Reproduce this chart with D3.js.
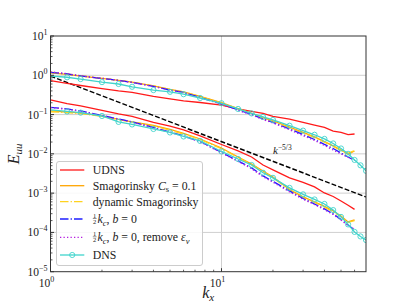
<!DOCTYPE html>
<html><head><meta charset="utf-8">
<script src="https://cdn.jsdelivr.net/npm/d3@7"></script>
<style>body{margin:0;background:#fff}svg{display:block}text{font-family:"Liberation Serif","DejaVu Serif",serif;fill:#222}</style>
</head><body><svg id="c" width="407" height="305"></svg>
<script>
// ---- data ----
const kLES = [1,1.25,1.5,2,2.5,3,4,5,6,7.5,10,12.5,15,17.5,20,25,30,35,40,45,50,55,60];
const kDNS = [1,1.25,1.5,2,2.5,3,4,5,6,7.5,10,12.5,15,17.5,20,25,30,35,40,45,50,55,60,65,70];

const udnsUpper = [0.73,0.62,0.55,0.46,0.40,0.365,0.29,0.25,0.222,0.203,0.175,0.139,0.12,0.107,0.0895,0.077,0.063,0.054,0.047,0.038,0.035,0.031,0.032];
const udnsLower = [0.235,0.19,0.166,0.127,0.1035,0.0895,0.0637,0.0507,0.0406,0.0285,0.0173,0.0119,0.0083,0.0052,0.0039,0.00244,0.00187,0.00144,0.00101,0.00082,0.00063,0.00049,0.000385];
const smagUpper = [1.15,1.05,0.95,0.83,0.74,0.67,0.54,0.44,0.38,0.29,0.20,0.142,0.108,0.084,0.069,0.048,0.035,0.027,0.0205,0.016,0.0125,0.0098,0.0118];
const smagLower = [0.124,0.116,0.11,0.092,0.075,0.065,0.053,0.0418,0.033,0.0239,0.0141,0.0083,0.0055,0.00367,0.00258,0.00124,0.0008,0.0006,0.00046,0.00035,0.00026,0.000185,0.00021];
const dynUpper = [1.2,1.08,0.97,0.84,0.745,0.67,0.535,0.435,0.375,0.285,0.197,0.14,0.106,0.082,0.067,0.046,0.034,0.026,0.0198,0.0155,0.0122,0.0105,0.012];
const dynLower = [0.118,0.112,0.106,0.09,0.074,0.064,0.051,0.04,0.032,0.0232,0.0135,0.0081,0.0053,0.0035,0.00248,0.0012,0.00078,0.00058,0.00044,0.00033,0.00025,0.00018,0.0002];
const halfUpper = [1.19,1.08,0.96,0.83,0.74,0.66,0.52,0.42,0.365,0.272,0.186,0.131,0.1006,0.077,0.063,0.043,0.031,0.0232,0.0174,0.0137,0.0105,0.0083,0.0068];
const halfLower = [0.153,0.139,0.124,0.095,0.077,0.065,0.047,0.036,0.0285,0.0207,0.0109,0.0066,0.0044,0.00274,0.00199,0.00114,0.00073,0.00053,0.000396,0.000296,0.000214,0.000155,0.000116];
const remUpper = [1.22,1.1,0.97,0.84,0.74,0.66,0.52,0.42,0.36,0.27,0.184,0.128,0.098,0.075,0.061,0.041,0.029,0.0219,0.0164,0.0125,0.0099,0.0081,0.0075];
const remLower = [0.15,0.137,0.122,0.094,0.076,0.064,0.046,0.0352,0.028,0.0202,0.0106,0.0064,0.0042,0.00262,0.0019,0.00108,0.0007,0.00051,0.00038,0.000285,0.000205,0.00015,0.00012];
const dnsUpper = [0.96,0.89,0.80,0.67,0.60,0.51,0.42,0.38,0.33,0.264,0.194,0.139,0.107,0.087,0.073,0.052,0.039,0.0306,0.024,0.0184,0.0137,0.0100,0.0070,0.0051,0.0037];
const dnsLower = [0.131,0.12,0.112,0.092,0.065,0.056,0.043,0.035,0.0277,0.0213,0.0115,0.0074,0.0052,0.0033,0.00245,0.00136,0.00093,0.00069,0.00053,0.00037,0.000248,0.00016,0.000103,0.000079,0.000064];
const slopeK = [1,70];
const slopeC = 0.95;

const xTicks = [1,10];
const yTicks = [1e-5,1e-4,1e-3,1e-2,1e-1,1,10];
const xTickExp = ["0","1"];
const yTickExp = ["\u22125","\u22124","\u22123","\u22122","\u22121","0","1"];

const series = [
  {name:"UDNS", k:kLES, up:udnsUpper, lo:udnsLower, color:"#ff1a1a", dash:null},
  {name:"smag", k:kLES, up:smagUpper, lo:smagLower, color:"#ffa500", dash:null},
  {name:"dyn", k:kLES, up:dynUpper, lo:dynLower, color:"#ffd21f", dash:"8.5,2.1,1.3,2.1"},
  {name:"half", k:kLES, up:halfUpper, lo:halfLower, color:"#1f1fff", dash:"8.5,2.1,1.3,2.1"},
  {name:"rem", k:kLES, up:remUpper, lo:remLower, color:"#b41ee0", dash:"1.3,2.2"},
  {name:"DNS", k:kDNS, up:dnsUpper, lo:dnsLower, color:"#40d4cc", dash:null, marker:true}
];

// ---- layout ----
const L=50.5,R=366,T=36,B=271.7;
const svg=d3.select("#c");
const x=d3.scaleLog().domain([1,70]).range([L,R]);
const y=d3.scaleLog().domain([1e-5,10]).range([B,T]);

// grid
const g=svg.append("g");
yTicks.forEach(v=>{ if(v>1e-5&&v<10) g.append("line").attr("x1",L).attr("x2",R).attr("y1",y(v)).attr("y2",y(v)).attr("stroke","#cfcfcf").attr("stroke-width",1);});
g.append("line").attr("x1",x(10)).attr("x2",x(10)).attr("y1",T).attr("y2",B).attr("stroke","#cfcfcf").attr("stroke-width",1);

svg.append("defs").append("clipPath").attr("id","clip").append("rect").attr("x",L).attr("y",T).attr("width",R-L).attr("height",B-T);
const plot=svg.append("g").attr("clip-path","url(#clip)");

// -5/3 line
const sl=d3.line().x(d=>x(d)).y(d=>y(slopeC*Math.pow(d,-5/3)));
plot.append("path").attr("d",sl(slopeK)).attr("fill","none").attr("stroke","#000").attr("stroke-width",1.4).attr("stroke-dasharray","4.9,2.1");

const line=d3.line().x(d=>x(d[0])).y(d=>y(d[1]));
series.forEach(s=>{
  [s.up,s.lo].forEach(vals=>{
    const pts=s.k.map((k,i)=>[k,vals[i]]);
    const p=plot.append("path").attr("d",line(pts)).attr("fill","none").attr("stroke",s.color).attr("stroke-width",1.3);
    if(s.dash) p.attr("stroke-dasharray",s.dash);
    if(s.marker){
      plot.selectAll(null).data(pts.filter(d=>d[0]>1.1)).enter().append("circle")
        .attr("cx",d=>x(d[0])).attr("cy",d=>y(d[1])).attr("r",2.6)
        .attr("fill","none").attr("stroke",s.color).attr("stroke-width",0.9);
    }
  });
});

// k^-5/3 label
const kl=svg.append("text").attr("x",273).attr("y",154).style("font-size","11px");
kl.append("tspan").style("font-style","italic").text("k");
kl.append("tspan").attr("dy",-4).style("font-size","7.5px").text("\u22125/3");

// axes ticks (inward)
const ax=svg.append("g");
const minorX=[];for(let d=1;d<=10;d*=10)for(let m=2;m<=9;m++){const v=m*d;if(v<70)minorX.push(v);}
const minorY=[];for(let e=-5;e<1;e++)for(let m=2;m<=9;m++)minorY.push(m*Math.pow(10,e));
xTicks.forEach(v=>ax.append("line").attr("x1",x(v)).attr("x2",x(v)).attr("y1",B).attr("y2",B-3.5).attr("stroke","#333"));
minorX.forEach(v=>ax.append("line").attr("x1",x(v)).attr("x2",x(v)).attr("y1",B).attr("y2",B-2).attr("stroke","#333").attr("stroke-width",0.8));
yTicks.forEach(v=>ax.append("line").attr("x1",L).attr("x2",L+3.5).attr("y1",y(v)).attr("y2",y(v)).attr("stroke","#333"));
minorY.forEach(v=>ax.append("line").attr("x1",L).attr("x2",L+2).attr("y1",y(v)).attr("y2",y(v)).attr("stroke","#333").attr("stroke-width",0.8));
// spines
ax.append("rect").attr("x",L).attr("y",T).attr("width",R-L).attr("height",B-T).attr("fill","none").attr("stroke","#333").attr("stroke-width",1);

// tick labels
xTicks.forEach((v,i)=>{
  const t=svg.append("text").attr("x",x(v)-4).attr("y",B+15).attr("text-anchor","middle").style("font-size","11.5px");
  t.append("tspan").text("10");
  t.append("tspan").attr("dy",-5).style("font-size","8px").text(xTickExp[i]);
});
yTicks.forEach((v,i)=>{
  const t=svg.append("text").attr("x",L-3).attr("y",y(v)+4).attr("text-anchor","end").style("font-size","11.5px");
  t.append("tspan").text("10");
  t.append("tspan").attr("dy",-5).style("font-size","8px").text(yTickExp[i]);
});

// axis labels
const xl=svg.append("text").attr("x",(L+R)/2).attr("y",298).attr("text-anchor","middle").style("font-size","16px");
xl.append("tspan").style("font-style","italic").text("k");
xl.append("tspan").attr("dy",3).style("font-size","11px").style("font-style","italic").text("x");
const yl=svg.append("text").attr("transform",`translate(19,${(T+B)/2}) rotate(-90)`).attr("text-anchor","middle").style("font-size","16px");
yl.append("tspan").style("font-style","italic").text("E");
yl.append("tspan").attr("dy",3).style("font-size","11px").style("font-style","italic").text("uu");

// legend
const lg=svg.append("g");
lg.append("rect").attr("x",56.5).attr("y",161.5).attr("width",146).attr("height",104).attr("rx",2.5)
  .attr("fill","#fff").attr("fill-opacity",0.85).attr("stroke","#cccccc").attr("stroke-width",1);
const rowsY=[170,185.7,201.7,219,237.3,255];
series.forEach((s,i)=>{
  const yy=rowsY[i];
  const l=lg.append("line").attr("x1",60).attr("x2",84.3).attr("y1",yy).attr("y2",yy).attr("stroke",s.color).attr("stroke-width",1.3);
  if(s.dash) l.attr("stroke-dasharray",s.dash);
  if(s.marker) lg.append("circle").attr("cx",72.2).attr("cy",yy).attr("r",2.6).attr("fill","none").attr("stroke",s.color).attr("stroke-width",0.9);
});
function txt(xx,yy){return lg.append("text").attr("x",xx).attr("y",yy+4).style("font-size","11.8px");}
txt(92.7,rowsY[0]).text("UDNS");
let t=txt(92.7,rowsY[1]); t.append("tspan").text("Smagorinsky ");
t.append("tspan").style("font-style","italic").text("C");
t.append("tspan").attr("dy",2.5).style("font-size","8.5px").text("s");
t.append("tspan").attr("dy",-2.5).text(" = 0.1");
txt(92.7,rowsY[2]).text("dynamic Smagorinsky");
function half(yy){
  lg.append("text").attr("x",94.7).attr("y",yy-1.5).attr("text-anchor","middle").style("font-size","6.5px").text("1");
  lg.append("line").attr("x1",92.8).attr("x2",96.6).attr("y1",yy-0.5).attr("y2",yy-0.5).attr("stroke","#222").attr("stroke-width",0.5);
  lg.append("text").attr("x",94.7).attr("y",yy+5).attr("text-anchor","middle").style("font-size","6.5px").text("2");
}
[3,4].forEach(i=>{
  const yy=rowsY[i];
  half(yy);
  const tt=txt(97.5,yy);
  tt.append("tspan").style("font-style","italic").text("k");
  tt.append("tspan").attr("dy",2.5).style("font-size","8.5px").style("font-style","italic").text("c");
  tt.append("tspan").attr("dy",-2.5).text(", ");
  tt.append("tspan").style("font-style","italic").text("b");
  tt.append("tspan").text(" = 0");
  if(i===4){
    tt.append("tspan").text(", remove ");
    tt.append("tspan").style("font-style","italic").text("\u03b5");
    tt.append("tspan").attr("dy",2.5).style("font-size","8.5px").style("font-style","italic").text("\u03bd");
  }
});
txt(92.7,rowsY[5]).text("DNS");
</script></body></html>
